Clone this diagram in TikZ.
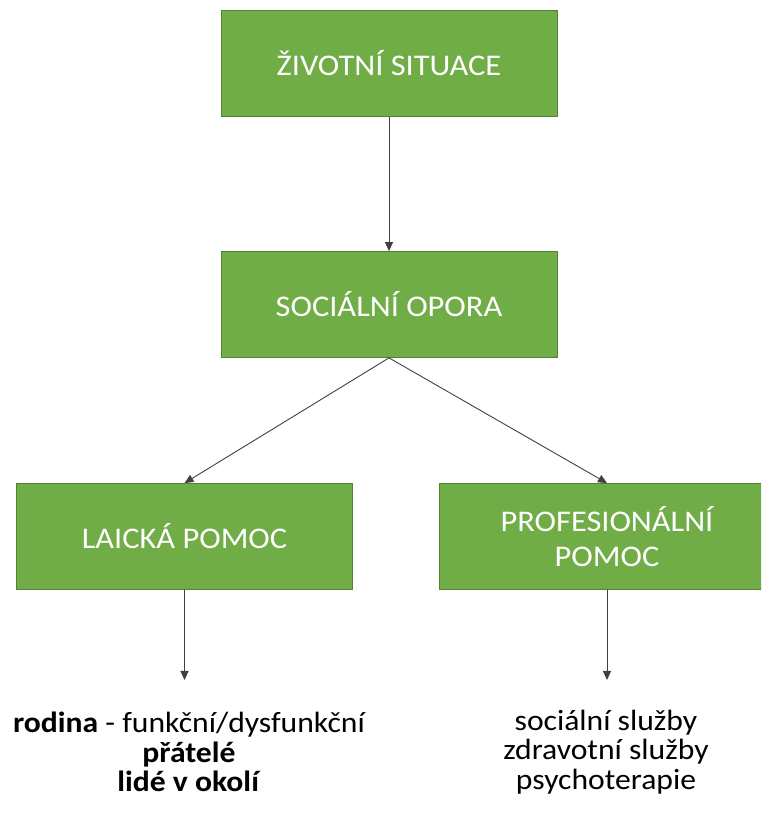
\documentclass[tikz,border=0pt]{standalone}
\usepackage{fontspec}
\setmainfont{Carlito}[FakeStretch=1.08]
\usetikzlibrary{arrows.meta}
\definecolor{boxgreen}{HTML}{70AD47}
\definecolor{boxedge}{HTML}{548235}
\definecolor{linegray}{HTML}{404040}
\begin{document}
\begin{tikzpicture}[x=1pt,y=1pt,
    box/.style={draw=boxedge, line width=0.8pt, fill=boxgreen, text=white, minimum width=336pt, minimum height=106pt, inner sep=0pt, align=center, font=\fontsize{30}{35}\selectfont},
    note/.style={align=center, font=\fontsize{29.3}{29.5}\selectfont},
    link/.style={draw=linegray, line width=0.9pt, ->, >={Triangle[length=9pt,width=8pt]}}]
  \clip (0,0) rectangle (761,816);
  \useasboundingbox (0,0) rectangle (761,816);
  \node[box] (situace) at (389,752.5) {ŽIVOTNÍ SITUACE};
  \node[box] (opora) at (389,511.5) {SOCIÁLNÍ OPORA};
  \node[box] (laicka) at (184.5,279.5) {LAICKÁ POMOC};
  \node[box] (prof) at (607,279.5) {PROFESIONÁLNÍ\\POMOC};
  \coordinate (laickaend) at (184.5,136);
  \coordinate (profend) at (607,136);
  \draw[link] (situace) -- (opora);
  \draw[link] (opora.south) -- (laicka.north);
  \draw[link] (opora.south) -- (prof.north);
  \draw[link] (laicka) -- (laickaend);
  \draw[link] (prof) -- (profend);
  % texty pod ramecky
  \node[note] (laickatext) at (189,64) {\textbf{rodina} - funkční/dysfunkční\\\textbf{přátelé}\\\textbf{lidé v okolí}};
  \node[note] (proftext) at (606,64) {sociální služby\\zdravotní služby\\psychoterapie};
\end{tikzpicture}
\end{document}
